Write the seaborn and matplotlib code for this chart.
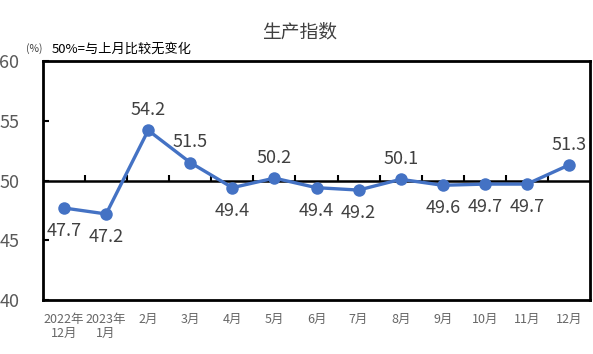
import numpy as np
import pandas as pd
import seaborn as sns
import matplotlib.pyplot as plt

months = ["2022年\n12月", "2023年\n1月", "2月", "3月", "4月", "5月", "6月",
          "7月", "8月", "9月", "10月", "11月", "12月"]
values = [47.7, 47.2, 54.2, 51.5, 49.4, 50.2, 49.4, 49.2, 50.1, 49.6, 49.7, 49.7, 51.3]
label_above = [False, False, True, True, False, True, False, False, True, False, False, False, True]
yticks = [40, 45, 50, 55, 60]

sns.set_style("white")
plt.rcParams['font.family'] = ['Noto Sans CJK SC', 'DejaVu Sans']

grey = "#595959"
blue = "#4472C4"

df = pd.DataFrame({"x": np.arange(len(values)), "v": values})

fig = plt.figure(figsize=(5.93, 3.54), dpi=100)
ax = fig.add_axes([0.0725, 0.1525, 0.9225, 0.6752])

# 50 line with little ticks at category borders
ax.axhline(50, color="black", lw=1.8, zorder=1)
ax.vlines(np.arange(len(values) - 1) + 0.5, 50, 50.45, color="black", lw=1.5, zorder=1)

sns.lineplot(data=df, x="x", y="v", ax=ax, color=blue, lw=2.4, marker="o",
             markersize=9, markeredgewidth=0, zorder=3)

for i, (v, up) in enumerate(zip(values, label_above)):
    off = 14.5 if up else -16.5
    ax.annotate(f"{v:.1f}", (i, v), xytext=(0, off), textcoords="offset points",
                ha="center", va="center", fontsize=13, color="#404040")

ax.set_xlim(-0.5, len(values) - 0.5)
ax.set_ylim(40, 60)
ax.set_yticks(yticks)
ax.set_yticklabels([str(t) for t in yticks], fontsize=13, color=grey)
ax.set_xticks(np.arange(len(values)))
ax.set_xticklabels(months, fontsize=9, color="#666666", linespacing=1.15, va="top")
ax.tick_params(axis="x", length=0, pad=9)
ax.tick_params(axis="y", direction="in", length=4, width=1.5, color="black", pad=17, left=True)
ax.set_xlabel("")
ax.set_ylabel("")
for s in ax.spines.values():
    s.set_visible(True)
    s.set_color("black")
    s.set_linewidth(2)

fig.text(0.505, 0.91, "生产指数", ha="center", va="center", fontsize=13.5, color="#404040")
fig.text(0.044, 0.862, "(%)", ha="left", va="center", fontsize=7.5, color="#404040")
fig.text(0.088, 0.86, "50%=与上月比较无变化", ha="left", va="center", fontsize=9.5, color="black")

fig.savefig("out.png", dpi=100)
